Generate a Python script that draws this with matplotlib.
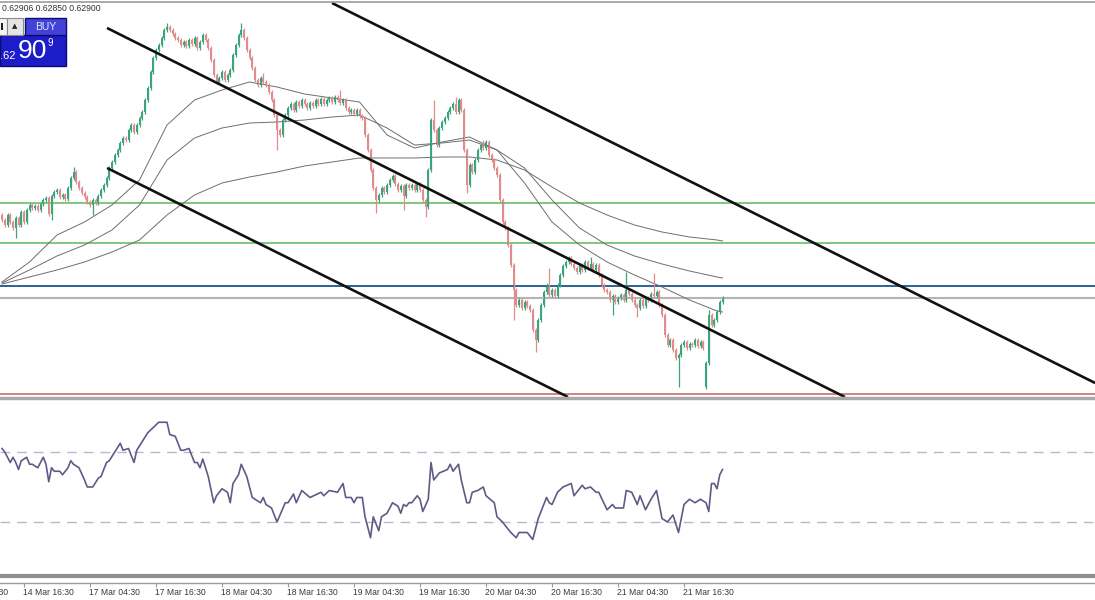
import matplotlib.pyplot as plt
from matplotlib.patches import Rectangle

plt.rcParams['font.family'] = ['Liberation Sans', 'DejaVu Sans']

# M30 candles, one close per bar (bar 0 = 14 Mar 11:30)
first_open = 0.6374
closes = [
    0.6369, 0.6364, 0.6374, 0.6367, 0.6361, 0.6371, 0.6364, 0.6377,
    0.6367, 0.6379, 0.6384, 0.6381, 0.6383, 0.6379, 0.6385, 0.6389,
    0.6391, 0.6375, 0.6393, 0.6397, 0.6399, 0.6392, 0.6394, 0.6390,
    0.6401, 0.6411, 0.6417, 0.6407, 0.6401, 0.6396, 0.6392, 0.6387,
    0.6384, 0.6389, 0.6386, 0.6393, 0.6399, 0.6404, 0.6411, 0.6421,
    0.6427, 0.6434, 0.6439, 0.6446, 0.6451, 0.6449, 0.6459, 0.6464,
    0.6457, 0.6464, 0.6471, 0.6477, 0.6489, 0.6501, 0.6517, 0.6531,
    0.6539, 0.6544, 0.6551, 0.6559, 0.6562, 0.6559, 0.6555, 0.6551,
    0.6549, 0.6544, 0.6547, 0.6543, 0.6549, 0.6545, 0.6551, 0.6541,
    0.6547, 0.6554, 0.6549, 0.6541, 0.6529, 0.6514, 0.6507, 0.6511,
    0.6517, 0.6509, 0.6514, 0.6519, 0.6534, 0.6544, 0.6554, 0.6559,
    0.6551, 0.6539, 0.6531, 0.6521, 0.6509, 0.6504, 0.6511, 0.6507,
    0.6504, 0.6497, 0.6489, 0.6474, 0.6459, 0.6454, 0.6469, 0.6474,
    0.6481, 0.6485, 0.6479, 0.6487, 0.6483, 0.6489, 0.6485, 0.6481,
    0.6486, 0.6483, 0.6489, 0.6485, 0.6490, 0.6485, 0.6489, 0.6491,
    0.6487, 0.6492, 0.6489, 0.6486, 0.6489, 0.6481, 0.6477, 0.6479,
    0.6475, 0.6479, 0.6473, 0.6471, 0.6454, 0.6439, 0.6419, 0.6401,
    0.6389, 0.6394, 0.6401, 0.6397, 0.6404, 0.6409, 0.6413, 0.6405,
    0.6399, 0.6403, 0.6393, 0.6404, 0.6401, 0.6404, 0.6399, 0.6405,
    0.6399, 0.6389, 0.6382, 0.6419, 0.6469, 0.6459, 0.6444, 0.6461,
    0.6467, 0.6471, 0.6477, 0.6481, 0.6485, 0.6477, 0.6489, 0.6479,
    0.6439, 0.6404, 0.6424, 0.6417, 0.6429, 0.6439, 0.6444, 0.6441,
    0.6447, 0.6434, 0.6429, 0.6421, 0.6414, 0.6389, 0.6367, 0.6361,
    0.6344, 0.6324, 0.6299, 0.6284, 0.6289, 0.6281, 0.6287, 0.6283,
    0.6279, 0.6259, 0.6249, 0.6269, 0.6284, 0.6297, 0.6304, 0.6294,
    0.6299, 0.6293, 0.6304, 0.6314, 0.6323, 0.6327, 0.6331, 0.6325,
    0.6321, 0.6317, 0.6324, 0.6319, 0.6327, 0.6321, 0.6325, 0.6319,
    0.6324, 0.6314, 0.6304, 0.6299, 0.6297, 0.6289, 0.6293, 0.6287,
    0.6291, 0.6294, 0.6289, 0.6299, 0.6295, 0.6289, 0.6284, 0.6281,
    0.6289, 0.6283, 0.6291, 0.6289, 0.6295, 0.6293, 0.6297, 0.6284,
    0.6274, 0.6254, 0.6244, 0.6249, 0.6239, 0.6231, 0.6234, 0.6244,
    0.6247, 0.6241, 0.6245, 0.6244, 0.6249, 0.6243, 0.6247, 0.6241,
    0.6226, 0.6274, 0.6264, 0.6269, 0.6277, 0.6287, 0.6291,
]
gap_opens = {256: 0.6202}
wick_highs = {26: 0.6422, 60: 0.6566, 87: 0.6566, 95: 0.6516, 123: 0.6499,
              157: 0.6489, 165: 0.6492, 175: 0.6449, 199: 0.6321, 214: 0.6332,
              227: 0.6317, 237: 0.6316, 257: 0.6279}
wick_lows = {5: 0.6351, 18: 0.6369, 33: 0.6374, 100: 0.6439, 136: 0.6376,
             146: 0.6379, 154: 0.6372, 169: 0.6396, 186: 0.6269, 194: 0.6237,
             222: 0.6274, 231: 0.6272, 246: 0.6202, 256: 0.6200}

# moving averages, sampled every 10 bars
ma_idx = [0, 10, 20, 30, 40, 50, 60, 70, 80, 90, 100, 110, 120, 130,
          140, 150, 160, 170, 180, 190, 200, 210, 220, 230, 240, 250, 260, 262]
ma_fast = [0.6307, 0.6327, 0.6354, 0.6367, 0.6384, 0.6409, 0.6464, 0.6489,
           0.6499, 0.6507, 0.6502, 0.6495, 0.6491, 0.6487, 0.6454, 0.6441,
           0.6447, 0.6452, 0.6439, 0.6406, 0.6367, 0.6344, 0.6327, 0.6314,
           0.6302, 0.6289, 0.6278, 0.6277]
ma_mid = [0.6306, 0.6319, 0.6333, 0.6344, 0.6359, 0.6384, 0.6429, 0.6451,
          0.6461, 0.6466, 0.6467, 0.6469, 0.6472, 0.6474, 0.6461, 0.6444,
          0.6446, 0.6449, 0.6439, 0.6421, 0.6389, 0.6361, 0.6344, 0.6333,
          0.6325, 0.6318, 0.6312, 0.6311]
ma_slow = [0.6305, 0.6312, 0.6319, 0.6327, 0.6337, 0.6349, 0.6374, 0.6394,
           0.6406, 0.6412, 0.6417, 0.6423, 0.6427, 0.6431, 0.6431, 0.6431,
           0.6432, 0.6432, 0.6429, 0.6419, 0.6402, 0.6386, 0.6374, 0.6364,
           0.6357, 0.6352, 0.6349, 0.6348]

rsi_idx = [0, 1, 2, 3, 4, 5, 6, 7, 9, 10, 11, 13, 15, 16, 17, 18, 19, 21, 22,
           24, 25, 26, 28, 30, 31, 33, 35, 36, 38, 39, 43, 44, 46, 48, 49, 51,
           53, 55, 57, 60, 61, 63, 65, 66, 68, 70, 71, 72, 73, 75, 77, 78, 80,
           82, 83, 84, 86, 87, 89, 91, 94, 95, 96, 98, 100, 103, 104, 106, 107,
           109, 112, 116, 117, 119, 122, 124, 125, 127, 128, 129, 131, 132,
           134, 135, 137, 138, 140, 142, 144, 145, 146, 147, 148, 149, 151,
           152, 153, 155, 156, 157, 159, 162, 163, 164, 166, 167, 169, 170,
           171, 173, 175, 176, 179, 180, 182, 185, 187, 188, 190, 191, 193,
           195, 198, 199, 200, 202, 204, 207, 208, 211, 212, 214, 216, 217,
           220, 222, 223, 226, 227, 229, 231, 232, 234, 236, 238, 240, 242,
           244, 246, 248, 250, 252, 254, 256, 257, 258, 259, 260, 261, 262]
rsi_val = [72, 70, 67, 64, 67, 64, 60, 65, 67, 63, 63, 61, 67, 63, 53, 61, 59,
           59, 57, 61, 65, 63, 61, 54, 50, 50, 55, 56, 64, 65, 75, 71, 72, 64,
           71, 76, 81, 84, 87, 87, 80, 79, 71, 71, 72, 64, 64, 61, 66, 56, 41,
           45, 49, 47, 41, 52, 57, 63, 56, 44, 41, 44, 40, 38, 30, 41, 41, 46,
           41, 48, 44, 47, 45, 48, 47, 52, 44, 44, 41, 44, 44, 33, 21, 33, 25,
           33, 35, 41, 39, 35, 40, 39, 41, 41, 45, 43, 36, 43, 64, 54, 58, 60,
           63, 59, 63, 54, 41, 41, 47, 48, 50, 45, 41, 33, 30, 24, 21, 24, 24,
           24, 20, 32, 44, 41, 40, 47, 50, 52, 45, 51, 49, 50, 47, 47, 37, 40,
           38, 38, 48, 47, 40, 45, 37, 43, 48, 32, 30, 34, 24, 40, 43, 41, 43,
           41, 36, 52, 52, 49, 57, 60]
rsi_levels = [70, 30]

green_levels = [0.6386, 0.6346]
blue_level = 0.6303
bid_price = 0.62909
red_level = 0.6195

# trend channel, (bar, price) end points
channel_upper = [(120, 0.6586), (397.5, 0.6206)]
channel_mid = [(38.2, 0.6561), (306.5, 0.6192)]
channel_low = [(38.2, 0.6421), (205.8, 0.6192)]

time_pos = [-16, 8, 32, 56, 80, 104, 128, 152, 176, 200, 224, 248]
time_labels = ["14 Mar 04:30", "14 Mar 16:30", "17 Mar 04:30", "17 Mar 16:30",
               "18 Mar 04:30", "18 Mar 16:30", "19 Mar 04:30", "19 Mar 16:30",
               "20 Mar 04:30", "20 Mar 16:30", "21 Mar 04:30", "21 Mar 16:30"]
header = "0.62906 0.62850 0.62900"

BULL = '#3aa57d'
BEAR = '#e08c8c'
W, H = 1095, 600
XLIM = (-0.73, 397.45)


def fx(px):
    return px / W


def fy(py):
    return 1 - py / H


fig = plt.figure(figsize=(W / 100, H / 100), dpi=100)
fig.patch.set_facecolor('white')

# main price window
ax = fig.add_axes([0, fy(397), 1, (397 - 2) / H])
ax.set_xticks([])
ax.set_yticks([])
for s in ['left', 'right', 'bottom']:
    ax.spines[s].set_visible(False)
ax.spines['top'].set_color('#9c9c9c')
ax.spines['top'].set_linewidth(1.2)

for lv in green_levels:
    ax.axhline(lv, color='#5cb85c', lw=1.1)
ax.axhline(blue_level, color='#2a6496', lw=1.4)
ax.axhline(bid_price, color='#b4b4b4', lw=1.5)
ax.axhline(red_level, color='#c46060', lw=1.1)

for ma in (ma_fast, ma_mid, ma_slow):
    ax.plot(ma_idx, ma, color='#6e6e6e', lw=0.7)

n = len(closes)
idx = list(range(n))
opens = [first_open] + closes[:-1]
for i, o in gap_opens.items():
    opens[i] = o
pad = 0.0002
highs = [wick_highs.get(i, max(opens[i], closes[i]) + pad) for i in idx]
lows = [wick_lows.get(i, min(opens[i], closes[i]) - pad) for i in idx]
cols = [BULL if closes[i] >= opens[i] else BEAR for i in idx]
ax.vlines(idx, lows, highs, colors=cols, lw=0.9)
bodies = [max(abs(closes[i] - opens[i]), 0.00004) for i in idx]
bottoms = [min(opens[i], closes[i]) for i in idx]
ax.bar(idx, bodies, bottom=bottoms, width=0.62, color=cols, lw=0)

for ch in (channel_upper, channel_mid, channel_low):
    ax.plot([ch[0][0], ch[1][0]], [ch[0][1], ch[1][1]], color='#111111',
            lw=1.9, solid_capstyle='butt')
ax.set_xlim(*XLIM)
ax.set_ylim(0.6192, 0.6587)

# RSI window
rax = fig.add_axes([0, fy(576), 1, (576 - 398) / H])
rax.set_xticks([])
rax.set_yticks([])
for s in ['left', 'right']:
    rax.spines[s].set_visible(False)
rax.spines['top'].set_color('#a8a8a8')
rax.spines['top'].set_linewidth(2.5)
rax.spines['bottom'].set_color('#8e8e8e')
rax.spines['bottom'].set_linewidth(3)
for lv in rsi_levels:
    rax.axhline(lv, color='#b8b8cc', lw=1, dashes=(7, 5))
rax.plot(rsi_idx, rsi_val, color='#5c5c86', lw=1.2)
rax.set_xlim(*XLIM)
rax.set_ylim(-0.86, 100.86)

# time scale
tax = fig.add_axes([0, 0, 1, (600 - 583) / H])
for s in ['left', 'right', 'bottom']:
    tax.spines[s].set_visible(False)
tax.spines['top'].set_color('#9a9a9a')
tax.spines['top'].set_linewidth(1)
tax.set_yticks([])
tax.set_xticks(time_pos)
tax.tick_params(axis='x', top=True, bottom=False, labelbottom=False,
                direction='in', length=3, color='#9a9a9a')
for p, lab in zip(time_pos, time_labels):
    tax.text(p - 0.3, 0.45, lab, ha='left', va='center', fontsize=6.2,
             color='#3a3a3a')
tax.set_xlim(*XLIM)
tax.set_ylim(0, 1)

# header and one-click trading panel
fig.text(fx(2), fy(8.5), header, ha='left', va='center', fontsize=6.2,
         color='#333333')


def box(x0, y0, x1, y1, fc, ec='none', lw=0.0):
    fig.add_artist(Rectangle((fx(x0), fy(y1)), fx(x1) - fx(x0), fy(y0) - fy(y1),
                             transform=fig.transFigure, fc=fc, ec=ec, lw=lw))


box(0, 35, 66, 66, '#1c1cc8', '#0c0c70', 1.0)
box(25, 18, 66, 35, '#4242d8', '#0c0c70', 1.0)
box(-2, 18, 7, 35, '#f4f4f4', '#8a8a8a', 0.8)
box(7, 18, 23, 35, '#e4e4e4', '#8a8a8a', 0.8)
box(1, 23, 3, 30, '#202020')
fig.text(fx(15), fy(26.5), '▲', ha='center', va='center', fontsize=5,
         color='#222222', family=['DejaVu Sans'])
fig.text(fx(45.5), fy(26.5), 'BUY', ha='center', va='center', fontsize=7.5,
         color='#e8e8ff')
fig.text(fx(0), fy(56), '.62', ha='left', va='center', fontsize=8,
         color='white')
fig.text(fx(32), fy(51), '90', ha='center', va='center', fontsize=19,
         color='white')
fig.text(fx(50.5), fy(43), '9', ha='center', va='center', fontsize=7,
         color='white')

fig.savefig('out.png', dpi=100, facecolor='white')
